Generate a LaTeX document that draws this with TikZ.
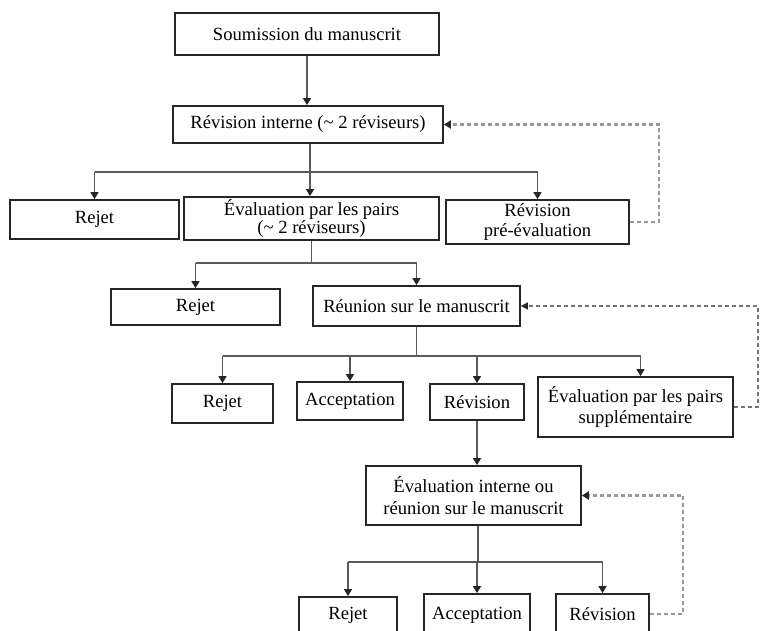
\documentclass[tikz,border=0pt]{standalone}
\usepackage{fontspec}
\setmainfont{Liberation Serif}
\usetikzlibrary{arrows.meta,calc}
\tikzset{
  box/.style={draw=black!85, line width=1.8pt, rectangle, inner sep=0pt, align=center,
    font=\fontsize{18.6}{21.5}\selectfont, text=black},
  link/.style={draw=black!65, line width=1.5pt},
  arr/.style={link, -{Triangle[length=7pt,width=8pt,color=black!85]}},
  fb/.style={draw=black!40, line width=2.2pt, dash pattern=on 4pt off 3pt, -{Triangle[length=7pt,width=8pt,color=black!85]}},
  fbthin/.style={draw=black!55, line width=1.3pt, dash pattern=on 4pt off 3pt, -{Triangle[length=7pt,width=7pt,color=black!85]}},
}
\begin{document}
\begin{tikzpicture}[x=1pt,y=-1pt]
\fill[white] (0,0) rectangle (760,630);
\path[use as bounding box, clip] (0,0) rectangle (760,630);

% nodes
\node[box, minimum width=264pt, minimum height=42pt] (soum) at (307,34) {Soumission du manuscrit};
\node[box, minimum width=270pt, minimum height=37pt] (revint) at (308,124.5) {Révision interne (\textasciitilde{} 2 réviseurs)};
\node[box, minimum width=169pt, minimum height=39pt] (rej1) at (94.5,219.5) {Rejet};
\node[box, minimum width=255pt, minimum height=43pt, font=\fontsize{18.6}{18}\selectfont] (evalp) at (311.5,218.5) {Évaluation par les pairs\\(\textasciitilde{} 2 réviseurs)};
\node[box, minimum width=183pt, minimum height=44pt, font=\fontsize{18.6}{20}\selectfont] (revpre) at (537.5,222) {Révision\\pré-évaluation};
\node[box, minimum width=169pt, minimum height=36pt] (rej2) at (195.5,307) {Rejet};
\node[box, minimum width=207pt, minimum height=40pt] (reun) at (416.5,306) {Réunion sur le manuscrit};
\node[box, minimum width=101pt, minimum height=39pt] (rej3) at (222.5,403.5) {Rejet};
\node[box, minimum width=106pt, minimum height=38pt] (acc3) at (350,401) {Acceptation};
\node[box, minimum width=94pt, minimum height=36pt] (rev3) at (477,402) {Révision};
\node[box, minimum width=195pt, minimum height=60pt] (evsup) at (635.5,407) {Évaluation par les pairs\\supplémentaire};
\node[box, minimum width=215pt, minimum height=59pt] (evint) at (473.5,495.5) {Évaluation interne ou\\réunion sur le manuscrit};
\node[box, minimum width=98pt, minimum height=36pt] (rej4) at (348,615) {Rejet};
\node[box, minimum width=106pt, minimum height=42pt] (acc4) at (477,615) {Acceptation};
\node[box, minimum width=93pt, minimum height=40pt] (rev4) at (602.5,614) {Révision};

% fork levels and feedback columns
\coordinate (f1) at (310,172);
\coordinate (f2) at (312,263);
\coordinate (f3) at (418,356);
\coordinate (f4) at (478,562);
\coordinate (d1) at (659,0);
\coordinate (d2) at (758,0);
\coordinate (d3) at (683,0);

% submission -> internal review
\draw[arr] (soum.south) -- (soum.south |- revint.north);

% level 1
\draw[link] (revint.south -| f1) -- (f1);
\draw[link] (rej1.north |- f1) -- (revpre.north |- f1);
\draw[arr] (rej1.north |- f1) -- (rej1.north);
\draw[arr] (f1) -- (f1 |- evalp.north);
\draw[arr] (revpre.north |- f1) -- (revpre.north);

% level 2
\draw[link] (evalp.south) -- (evalp.south |- f2);
\draw[link] (rej2.north |- f2) -- (reun.north |- f2);
\draw[arr] (rej2.north |- f2) -- (rej2.north);
\draw[arr] (reun.north |- f2) -- (reun.north);

% level 3
\draw[link] (reun.south) -- (reun.south |- f3);
\draw[link] (rej3.north |- f3) -- ($(evsup.north |- f3)+(5,0)$);
\draw[arr] (rej3.north |- f3) -- (rej3.north);
\draw[arr] (acc3.north |- f3) -- (acc3.north);
\draw[arr] (rev3.north |- f3) -- (rev3.north);
\draw[arr] ($(evsup.north |- f3)+(5,0)$) -- ($(evsup.north)+(5,0)$);

% revision -> internal evaluation
\draw[arr] (rev3.south) -- (rev3.south |- evint.north);

% level 4
\draw[link] (f4 |- evint.south) -- (f4);
\draw[link] (rej4.north |- f4) -- (rev4.north |- f4);
\draw[arr] (rej4.north |- f4) -- (rej4.north);
\draw[arr] (acc4.north |- f4) -- (acc4.north);
\draw[arr] (rev4.north |- f4) -- (rev4.north);

% feedback loops
\draw[fb] (revpre.east) -- (revpre.east -| d1) -- (d1 |- revint.east) -- (revint.east);
\draw[fbthin] (evsup.east) -- (evsup.east -| d2) -- (d2 |- reun.east) -- (reun.east);
\draw[fb] (rev4.east) -- (rev4.east -| d3) -- (d3 |- evint.east) -- (evint.east);
\end{tikzpicture}
\end{document}
